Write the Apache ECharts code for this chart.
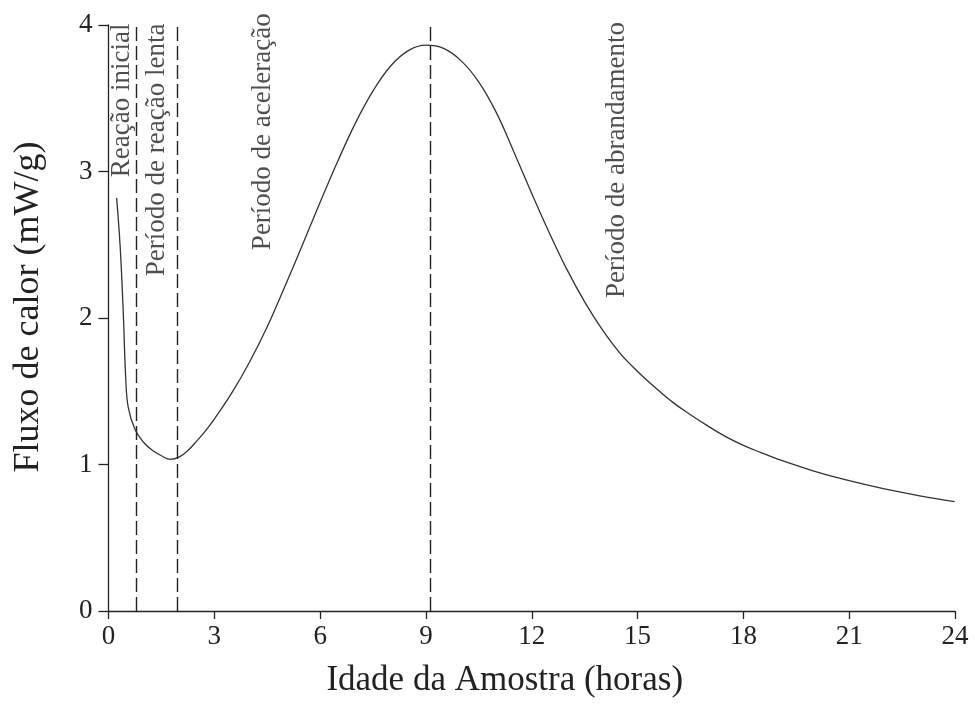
<!DOCTYPE html>
<html>
<head>
<meta charset="utf-8">
<script src="https://cdn.jsdelivr.net/npm/echarts@6/dist/echarts.min.js"></script>
<style>html,body{margin:0;padding:0;background:#fff;}#chart{width:975px;height:710px;}</style>
</head>
<body>
<div id="chart"></div>
<script>
// Curve data (hours, mW/g)
var hours = [0.23, 0.33, 0.42, 0.49, 0.56, 0.75, 1.0, 1.25, 1.5, 1.75, 2.0, 2.25, 2.5, 2.75, 3.0, 3.5, 4.0, 4.5, 5.0, 5.5, 6.0, 6.5, 7.0, 7.5, 8.0, 8.5, 9.0, 9.5, 10.0, 10.5, 11.0, 11.5, 12.0, 12.5, 13.0, 13.5, 14.0, 14.5, 15.0, 15.5, 16.0, 16.5, 17.0, 17.5, 18.0, 18.5, 19.0, 19.5, 20.0, 20.5, 21.0, 21.5, 22.0, 22.5, 23.0, 23.5, 23.99];
var flux  = [2.82, 2.49, 2.03, 1.58, 1.39, 1.24, 1.15, 1.095, 1.06, 1.035, 1.05, 1.095, 1.16, 1.23, 1.31, 1.49, 1.70, 1.94, 2.215, 2.50, 2.79, 3.07, 3.33, 3.55, 3.72, 3.825, 3.862, 3.84, 3.755, 3.61, 3.40, 3.13, 2.85, 2.58, 2.33, 2.11, 1.92, 1.76, 1.635, 1.525, 1.424, 1.34, 1.262, 1.19, 1.13, 1.081, 1.035, 0.994, 0.955, 0.921, 0.89, 0.861, 0.834, 0.809, 0.786, 0.765, 0.746];
// Phase boundaries (hours)
var boundaries = [0.80, 1.96, 9.12];
// Phase labels
var phaseNames = ["Reação inicial", "Período de reação lenta", "Período de aceleração", "Período de abrandamento"];
var phaseX = [0.37, 1.37, 4.38, 14.41];
var phaseTop = [4.01, 4.01, 4.08, 4.02];
// Axis ticks
var xMin = 0, xMax = 24, xStep = 3;
var yMin = 0, yMax = 4, yStep = 1;
var xTitle = "Idade da Amostra (horas)";
var yTitle = "Fluxo de calor (mW/g)";

var FONT = "'Liberation Serif', 'DejaVu Serif', serif";
var INK = '#222';

var curve = hours.map(function (h, i) { return [h, flux[i]]; });
var labelPts = phaseNames.map(function (n, i) { return { name: n, value: [phaseX[i], phaseTop[i]] }; });

var chart = echarts.init(document.getElementById('chart'), null, { renderer: 'canvas' });
chart.setOption({
  animation: false,
  backgroundColor: '#fff',
  grid: { left: 108.5, right: 20, top: 25, bottom: 99, containLabel: false },
  xAxis: {
    type: 'value', min: xMin, max: xMax, interval: xStep,
    name: xTitle, nameLocation: 'middle', nameGap: 52,
    nameTextStyle: { fontFamily: FONT, fontSize: 35, color: INK, padding: [0, 54, 0, 0] },
    axisLine: { show: true, lineStyle: { color: INK, width: 1.3 } },
    axisTick: { show: true, inside: false, length: 8, lineStyle: { color: INK, width: 1.3 } },
    axisLabel: { fontFamily: FONT, fontSize: 27, color: INK, margin: 12 },
    splitLine: { show: false }
  },
  yAxis: {
    type: 'value', min: yMin, max: yMax, interval: yStep,
    name: yTitle, nameLocation: 'middle', nameGap: 62, nameRotate: 90,
    nameTextStyle: { fontFamily: FONT, fontSize: 36, color: INK, padding: [0, 0, 0, 22] },
    axisLine: { show: true, lineStyle: { color: INK, width: 1.3 } },
    axisTick: { show: true, inside: false, length: 10, lineStyle: { color: INK, width: 1.3 } },
    axisLabel: { fontFamily: FONT, fontSize: 27, color: INK, margin: 16 },
    splitLine: { show: false }
  },
  series: [
    {
      type: 'line',
      data: curve,
      smooth: 0.4,
      showSymbol: false,
      symbol: 'none',
      lineStyle: { color: '#333', width: 1.3 },
      markLine: {
        silent: true,
        symbol: ['none', 'none'],
        label: { show: false },
        lineStyle: { color: INK, width: 1.4, type: [14, 5] },
        data: boundaries.map(function (b) { return { xAxis: b }; })
      }
    },
    {
      type: 'scatter',
      data: labelPts,
      symbolSize: 0,
      clip: false,
      silent: true,
      label: {
        show: true,
        position: 'inside',
        formatter: function (p) { return p.name; },
        rotate: 90,
        align: 'right',
        verticalAlign: 'middle',
        fontFamily: FONT,
        fontSize: 27,
        color: INK
      }
    }
  ]
});
</script>
</body>
</html>
